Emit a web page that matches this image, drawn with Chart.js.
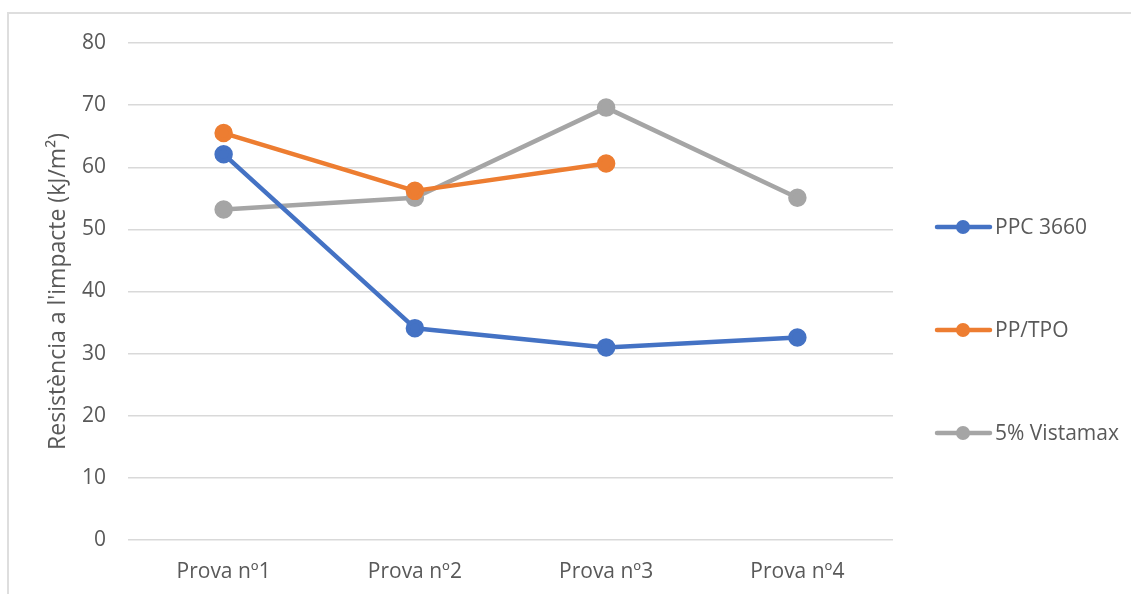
<!DOCTYPE html>
<html>
<head>
<meta charset="utf-8">
<script src="https://cdn.jsdelivr.net/npm/chart.js@4.4.1/dist/chart.umd.min.js"></script>
<style>
  html, body { margin: 0; padding: 0; background: #ffffff; }
  #wrap { position: relative; width: 1131px; height: 594px; overflow: hidden; }
  #frame { position: absolute; left: 7px; top: 12px; right: 0; bottom: -10px;
           border-top: 2px solid #dedede; border-left: 2px solid #dedede; }
  canvas { position: absolute; left: 0; top: 0; }
</style>
</head>
<body>
<div id="wrap">
  <div id="frame"></div>
  <canvas id="c" width="1131" height="594"></canvas>
</div>
<script>
// Impact resistance per test run, kJ/m²
const categories = ['Prova nº1', 'Prova nº2', 'Prova nº3', 'Prova nº4'];
const seriesNames = ['PPC 3660', 'PP/TPO', '5% Vistamax'];
const ppc3660 = [62.1, 34.1, 31.0, 32.6];
const ppTpo = [65.5, 56.2, 60.6, null];
const vistamax = [53.2, 55.1, 69.6, 55.1];
const yTicks = [0, 10, 20, 30, 40, 50, 60, 70, 80];

const colors = ['#4472C4', '#ED7D31', '#A5A5A5'];
const FONT = '"Open Sans", "Liberation Sans", sans-serif';
const TEXT = '#595959';

function lineSet(label, data, color) {
  return {
    label, data,
    borderColor: color, backgroundColor: color,
    pointBackgroundColor: color, pointBorderColor: color,
    borderWidth: 4.5, pointRadius: 7, pointHoverRadius: 7,
    borderCapStyle: 'round', borderJoinStyle: 'round',
    tension: 0, spanGaps: false
  };
}

// Legend on the right: line with a dot, then the series name
const sideLegend = {
  id: 'sideLegend',
  afterDraw(chart) {
    const ctx = chart.ctx;
    const rows = [227, 330, 433];
    ctx.save();
    chart.data.datasets.forEach((ds, i) => {
      const y = rows[i];
      ctx.strokeStyle = ds.borderColor;
      ctx.fillStyle = ds.borderColor;
      ctx.lineWidth = 4.5;
      ctx.lineCap = 'round';
      ctx.beginPath();
      ctx.moveTo(937, y);
      ctx.lineTo(990, y);
      ctx.stroke();
      ctx.beginPath();
      ctx.arc(963, y, 7, 0, Math.PI * 2);
      ctx.fill();
      ctx.fillStyle = TEXT;
      ctx.font = '21px ' + FONT;
      ctx.textAlign = 'left';
      ctx.textBaseline = 'middle';
      ctx.fillText(ds.label, 995, y + 1);
    });
    ctx.restore();
  }
};

new Chart(document.getElementById('c'), {
  type: 'line',
  data: {
    labels: categories,
    datasets: [
      lineSet(seriesNames[0], ppc3660, colors[0]),
      lineSet(seriesNames[1], ppTpo, colors[1]),
      lineSet(seriesNames[2], vistamax, colors[2])
    ]
  },
  options: {
    responsive: false,
    animation: false,
    layout: { padding: { left: 0, right: 238, top: 43, bottom: 10 } },
    plugins: { legend: { display: false }, tooltip: { enabled: false } },
    scales: {
      x: {
        offset: true,
        grid: { display: false, drawTicks: false },
        border: { display: false },
        ticks: { color: TEXT, font: { family: FONT, size: 21 }, padding: 19 },
        afterFit(s) { s.height = 44; }
      },
      y: {
        min: 0, max: 80,
        afterBuildTicks(s) { s.ticks = yTicks.map(v => ({ value: v })); },
        grid: { color: '#d9d9d9', lineWidth: 1.5, drawTicks: false },
        border: { display: false },
        ticks: { color: TEXT, font: { family: FONT, size: 21 }, padding: 22 },
        title: {
          display: true,
          text: "Resistència a l'impacte (kJ/m²)",
          color: TEXT,
          font: { family: FONT, size: 23, weight: 'normal' },
          padding: { top: 45, bottom: 0 }
        },
        afterFit(s) { s.width = 128; }
      }
    }
  },
  plugins: [sideLegend]
});
</script>
</body>
</html>
